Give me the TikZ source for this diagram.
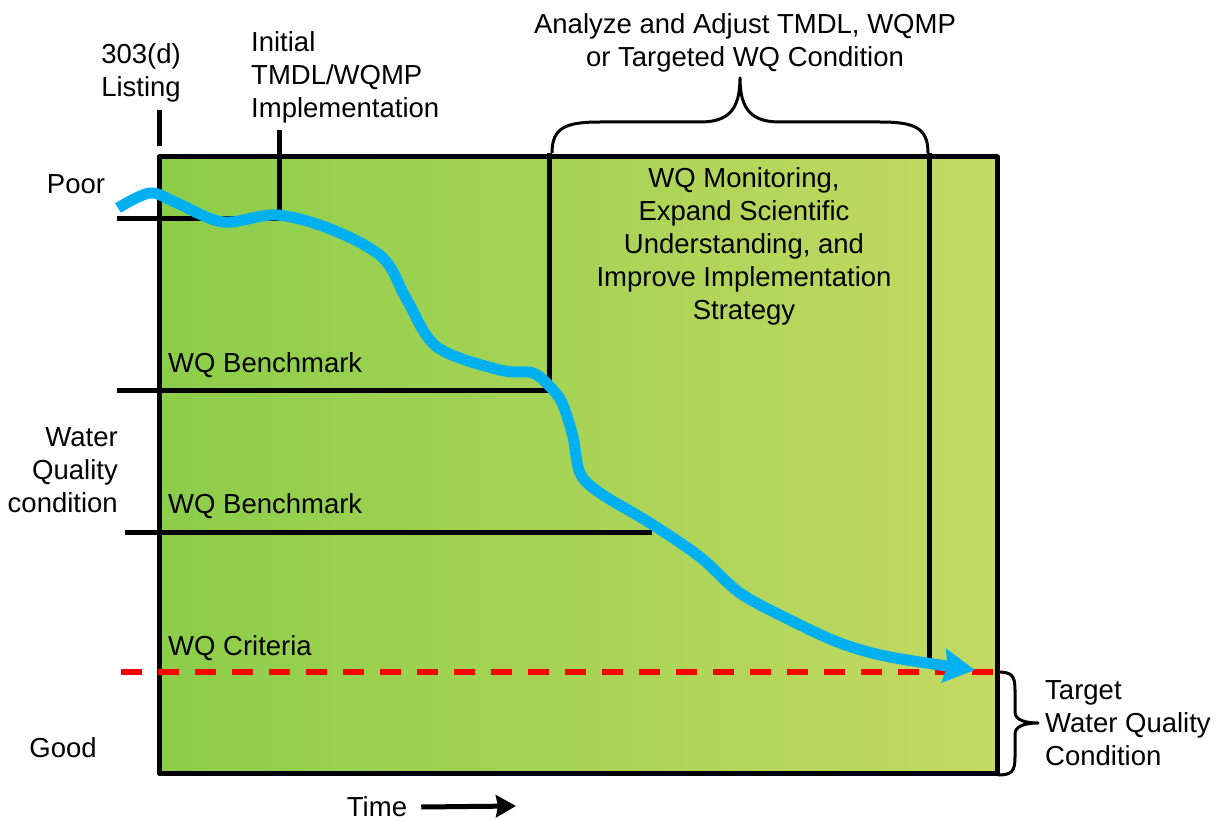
\documentclass[tikz,border=0pt]{standalone}
\usepackage{fontspec}
\setmainfont{Liberation Sans}
\usetikzlibrary{arrows.meta}
\definecolor{wqgreen}{RGB}{140,205,74}
\definecolor{wqmid}{RGB}{155,209,78}
\definecolor{wqyellow}{RGB}{196,217,98}
\definecolor{wqblue}{RGB}{0,176,240}
\definecolor{wqred}{RGB}{255,0,0}

\begin{document}
\begin{tikzpicture}[>=Stealth, x=1pt, y=-1pt, line join=round,
    lbl/.style={font=\fontsize{27.5}{33}\selectfont, inner sep=0pt},
    tick/.style={line width=5pt},
    brace/.style={line width=3pt}]
    \useasboundingbox (0,0) rectangle (1220,821);

    % Sfondo
    \shade[left color=wqgreen, middle color=wqmid, right color=wqyellow]
        (159,157) rectangle (997,773);

    % Linee di riferimento
    \draw[tick] (159,110) -- (159,146);
    \draw[tick] (279,130) -- (279,218);
    \draw[tick] (117,218) -- (280,218);
    \draw[tick] (117,390) -- (549,390);
    \draw[tick] (549,153) -- (549,390);
    \draw[tick] (125,532) -- (652,532);
    \draw[tick] (929,153) -- (929,658);

    % Riquadro
    \draw[line width=5pt] (159,157) rectangle (997,773);

    % Parentesi graffe
    \draw[brace] (552,153) .. controls (552,128) and (565,122) .. (600,122)
        -- (700,122) .. controls (728,122) and (740,110) .. (740,78)
        .. controls (740,110) and (752,122) .. (780,122)
        -- (880,122) .. controls (915,122) and (928,128) .. (928,153);
    \draw[brace] (998,672) .. controls (1012,672) and (1015,676) .. (1015,690)
        -- (1015,712) .. controls (1015,720) and (1025,723) .. (1038,723)
        .. controls (1025,723) and (1015,726) .. (1015,734)
        -- (1015,757) .. controls (1015,771) and (1012,775) .. (998,775);

    % Criterio
    \draw[wqred, line width=5.5pt, dash pattern=on 21pt off 16pt] (121,672) -- (997,672);

    % Curva della qualita
    \draw[wqblue, line width=11pt, -{Stealth[length=31pt, width=33pt, inset=3pt]}]
        plot[smooth, tension=0.55] coordinates {(118,208) (150,193) (177,203)
        (223,222) (277,215) (333,230) (383,258) (407,300) (437,347) (500,370)
        (533,373) (553,390) (563,405) (573,437) (580,473) (600,493) (650,523)
        (700,557) (740,593) (790,620) (840,643) (890,657) (975,670)};

    % Etichette
    \node[lbl, align=center] (listing) at (141,73) {303(d)\\Listing};
    \node[lbl, align=left, anchor=west] (initial) at (251,77) {Initial\\TMDL/WQMP\\Implementation};
    \node[lbl] (poor) at (76,184) {Poor};
    \node[lbl, align=right, anchor=east] (wqcond) at (118,470) {Water\\Quality\\condition};
    \node[lbl] (good) at (63,748) {Good};
    \node[lbl, anchor=west] (bench1) at (168,365) {WQ Benchmark};
    \node[lbl, anchor=west] (bench2) at (168,506) {WQ Benchmark};
    \node[lbl, anchor=west] (criteria) at (168,648) {WQ Criteria};
    \node[lbl, align=center] (adjust) at (745,43) {Analyze and Adjust TMDL, WQMP\\or Targeted WQ Condition};
    \node[lbl, align=center] (monitor) at (744,246) {WQ Monitoring,\\Expand Scientific\\Understanding, and\\Improve Implementation\\Strategy};
    \node[lbl, align=left, anchor=west] (target) at (1045,723) {Target\\Water Quality\\Condition};
    \node[lbl] (time) at (377,807) {Time};

    % Asse del tempo
    \coordinate (timeend) at (516,806);
    \draw[line width=5pt, -{Stealth[length=20pt, width=22pt, inset=2pt]}]
        ([xshift=14pt]time.east) -- (timeend);

\end{tikzpicture}
\end{document}
